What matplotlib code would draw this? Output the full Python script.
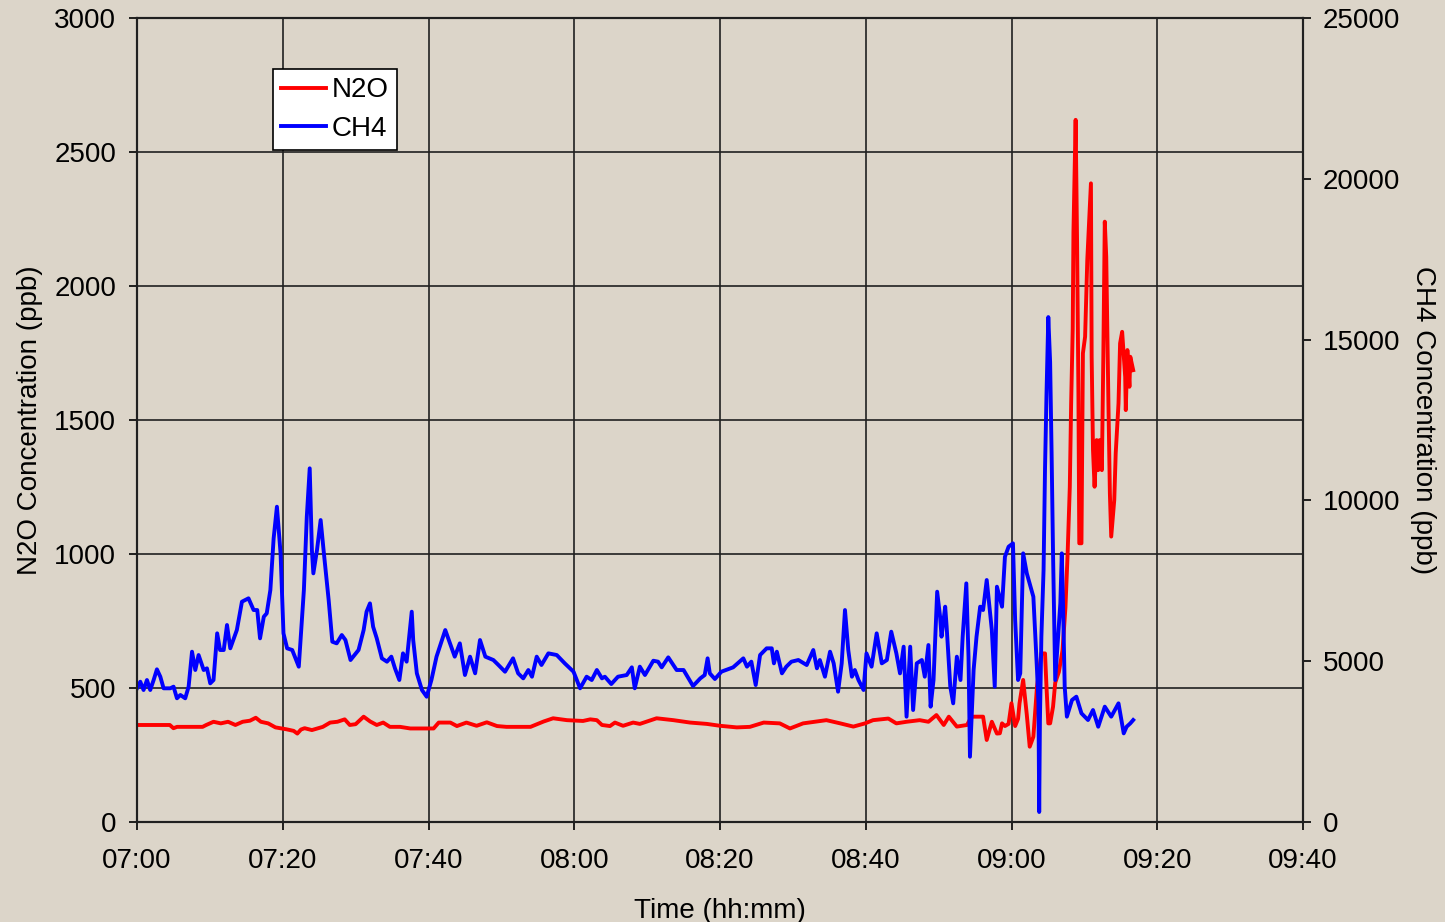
import numpy as np
import matplotlib
matplotlib.use("Agg")
import matplotlib.pyplot as plt
import matplotlib.dates as mdates

# minutes after 07:00 and concentrations (ppb)
ch4_minutes = [0, 0.46, 0.9, 1.37, 1.83, 2.29, 2.74, 3.2, 3.66, 4.57, 5.03, 5.49, 5.95, 6.63,
               7.09, 7.55, 8.0, 8.46, 9.15, 9.6, 10.06, 10.5, 11.0, 11.4, 11.9, 12.35, 12.8,
               13.7, 14.4, 15.3, 16.0, 16.5, 16.9, 17.4, 17.8, 18.3, 18.75, 19.2, 19.7, 20.1,
               20.6, 21.3, 22.2, 22.9, 23.3, 23.7, 24.0, 24.2, 24.7, 25.2, 25.6, 26.3, 26.8,
               27.4, 28.1, 28.6, 29.3, 30.4, 31.1, 31.5, 31.97, 32.4, 32.9, 33.6, 34.3, 34.9,
               35.4, 36.0, 36.5, 37.0, 37.7, 37.9, 38.4, 39.1, 39.75, 40.4, 41.1, 42.3, 42.95,
               43.6, 44.3, 45.0, 45.7, 46.4, 47.07, 47.8, 48.9, 49.6, 50.5, 51.6, 52.3, 53.0,
               53.7, 54.2, 54.85, 55.5, 56.45, 57.6, 58.7, 59.9, 60.8, 61.7, 62.4, 63.1, 63.8,
               64.2, 65.1, 66.0, 67.2, 67.9, 68.3, 69.0, 69.7, 70.85, 71.5, 72.0, 72.9, 74.05,
               75.0, 76.3, 77.3, 77.9, 78.3, 78.6, 79.3, 80.2, 81.8, 83.2, 83.7, 84.3, 84.9,
               85.5, 86.4, 87.1, 87.4, 87.8, 88.5, 89.1, 89.8, 90.75, 91.9, 92.8, 93.3, 93.7,
               94.4, 95.1, 95.6, 96.2, 96.7, 97.15, 97.6, 98.1, 98.5, 99.0, 99.7, 100.1, 100.8,
               101.5, 102.2, 102.9, 103.5, 104.2, 104.7, 105.2, 105.6, 106.1, 106.5, 107.0,
               107.7, 108.1, 108.6, 108.9, 109.3, 109.8, 110.2, 110.4, 110.9, 111.1, 111.6,
               112.0, 112.5, 113.0, 113.3, 113.8, 114.1, 114.3, 114.8, 115.2, 115.7, 116.1,
               116.6, 117.3, 117.7, 118.0, 118.7, 119.1, 119.6, 120.2, 120.5, 120.9, 121.2,
               121.6, 122.1, 123.0, 123.5, 123.7, 123.8, 123.9, 124.1, 124.4, 124.6, 124.8,
               125.05, 125.3, 125.5, 125.7, 126.0, 126.4, 126.7, 126.9, 127.1, 127.3, 127.6,
               128.3, 128.9, 129.6, 130.5, 131.2, 131.9, 132.8, 133.7, 134.7, 135.4, 135.8,
               136.3, 136.7]
ch4_ppb = [4157, 4362, 4104, 4415, 4104, 4415, 4747, 4518, 4157, 4157, 4208, 3846, 3950, 3846,
           4208, 5295, 4726, 5192, 4726, 4778, 4312, 4415, 5866, 5348, 5348, 6125, 5400,
           5969, 6850, 6955, 6591, 6591, 5711, 6383, 6487, 7213, 8820, 9803, 8354, 5866,
           5400, 5348, 4829, 7213, 9492, 10997, 8457, 7732, 8457, 9389, 8457, 6902, 5606,
           5555, 5814, 5659, 5037, 5348, 5969, 6539, 6798, 6072, 5711, 5089, 4985, 5141,
           4778, 4415, 5244, 4985, 6539, 5659, 4623, 4104, 3896, 4415, 5141, 5969, 5555,
           5141, 5555, 4570, 5141, 4623, 5659, 5141, 5037, 4881, 4673, 5089, 4623, 4467,
           4726, 4518, 5141, 4881, 5244, 5192, 4933, 4673, 4157, 4518, 4415, 4726, 4467,
           4518, 4290, 4518, 4570, 4809, 4157, 4830, 4570, 5015, 4985, 4809, 5120, 4726,
           4726, 4228, 4467, 4570, 5089, 4623, 4446, 4675, 4809, 5089, 4830, 4985, 4259,
           5192, 5400, 5400, 4933, 5296, 4623, 4830, 4985, 5037, 4881, 5348, 4778, 5037,
           4518, 5296, 4933, 4052, 4933, 6591, 5348, 4518, 4726, 4415, 4104, 5244, 4830,
           5866, 4933, 5037, 5918, 5244, 4622, 5451, 3275, 5451, 3482, 4933,
           5037, 4518, 5503, 3586, 4415, 7161, 6384, 5763, 6695, 6073, 4207,
           3690, 5140, 4415, 5762, 7420, 5140, 2030, 4726, 5762, 6695, 6591,
           7524, 5970, 4207, 7316, 6695, 8248, 8560, 8664, 6280, 4415, 4622,
           8353, 7731, 7005, 4726, 3690, 311, 3171, 5762, 7835, 10986, 13267,
           15700, 14302, 11504, 8353, 4415, 5762, 6798, 8353, 6487, 4207, 3275,
           3793, 3897, 3379, 3171, 3482, 2963, 3586, 3275, 3690, 2756, 2963,
           3067, 3171]

n2o_minutes = [0, 4.5, 5.0, 5.5, 9.0, 9.5, 10.5, 11.5, 12.5, 13.5, 14.5, 15.5, 16.3, 17.0,
               18.0, 19.0, 20.5, 21.5, 22.0, 22.5, 23.0, 24.0, 25.5, 26.5, 27.5, 28.5, 29.2,
               30.0, 31.1, 32.0, 32.9, 33.8, 34.7, 36.1, 37.5, 40.7, 41.4, 43.0, 43.9, 45.2,
               46.6, 48.0, 49.4, 50.7, 54.0, 55.8, 57.1, 59.0, 61.2, 62.2, 63.1, 63.8, 64.9,
               65.6, 66.7, 68.1, 69.0, 71.3, 73.6, 75.9, 78.2, 80.0, 82.3, 84.1, 86.0, 88.2,
               89.6, 91.4, 94.6, 96.5, 98.3, 99.9, 101.0, 103.1, 104.2, 105.6, 107.4, 108.6,
               109.7, 110.7, 111.4, 112.5, 113.9, 114.5, 116.1, 116.6, 117.3, 118.0, 118.4,
               118.7, 119.1, 119.6, 120.0, 120.5, 120.9, 121.1, 121.6, 122.1, 122.5, 123.0,
               123.5, 124.1, 124.6, 124.8, 125.05, 125.3, 125.7, 126.0, 126.5, 127.0, 127.4,
               127.7, 128.0, 128.2, 128.4, 128.5, 128.8, 129.0, 129.2, 129.3, 129.6, 129.8,
               130.1, 130.4, 130.9, 131.0, 131.2, 131.4, 131.7, 131.9, 132.1, 132.4, 132.6,
               132.8, 133.0, 133.3, 133.5, 133.7, 134.1, 134.3, 134.7, 134.9, 135.2, 135.6,
               135.7, 135.9, 136.2, 136.3, 136.7]
n2o_ppb = [362, 362, 350, 355, 355, 362, 374, 368, 374, 362, 374, 378, 389, 374,
           368, 353, 346, 340, 330, 345, 350, 343, 355, 371, 374, 383, 362,
           365, 393, 375, 362, 371, 355, 355, 349, 349, 371, 371, 358, 371,
           359, 372, 358, 355, 355, 375, 387, 380, 377, 383, 380, 362, 358,
           371, 359, 371, 366, 387, 380, 371, 366, 359, 353, 355, 371, 368,
           349, 368, 380, 368, 356, 368, 380, 386, 368, 374, 380, 374,
           399, 362, 393, 356, 362, 393, 393, 306, 374, 330, 331,
           368, 358, 366, 443, 358, 385, 443, 530, 400, 281, 318,
           505, 629, 629, 505, 368, 368, 430, 520, 560, 640, 800,
           1000, 1250, 1560, 1840, 2200, 2620, 2160, 1600, 1040, 1040, 1749,
           1811, 2097, 2383, 1736, 1388, 1251, 1425, 1313, 1425, 1313, 1736,
           2240, 2109, 1562, 1226, 1065, 1201, 1376, 1562, 1786, 1829, 1661,
           1537, 1761, 1624, 1736, 1686]

start = np.datetime64("2000-01-01T07:00")


def to_time(minutes):
    return start + (np.array(minutes) * 60).astype("timedelta64[s]")


bg = "#dcd5c9"
plt.rcParams["font.family"] = ["Liberation Sans", "DejaVu Sans"]
plt.rcParams["font.size"] = 20

fig = plt.figure(figsize=(14.45, 9.22), dpi=100, facecolor=bg)
ax1 = fig.add_axes([137 / 1445, 1 - 822 / 922, 1166 / 1445, 804 / 922])
ax1.set_facecolor(bg)
ax2 = ax1.twinx()

l1, = ax1.plot(to_time(n2o_minutes), n2o_ppb, color="#ff0000", lw=2.8, label="N2O")
l2, = ax2.plot(to_time(ch4_minutes), ch4_ppb, color="#0000ff", lw=2.8, label="CH4")

ax1.set_xlim(start, start + np.timedelta64(160, "m"))
ax1.set_ylim(0, 3000)
ax2.set_ylim(0, 25000)
ax1.set_yticks(np.arange(0, 3001, 500))
ax2.set_yticks(np.arange(0, 25001, 5000))
ax1.xaxis.set_major_locator(mdates.MinuteLocator(byminute=[0, 20, 40]))
ax1.xaxis.set_major_formatter(mdates.DateFormatter("%H:%M"))

ax1.grid(True, color="#202020", lw=1.2)
ax1.set_axisbelow(True)
for a in (ax1, ax2):
    for s in a.spines.values():
        s.set_color("#202020")
        s.set_linewidth(1.5)
ax1.tick_params(axis="x", length=6, width=1.2, pad=13)
ax1.tick_params(axis="y", length=6, width=1.2, pad=9)
ax2.tick_params(axis="y", length=6, width=1.2, pad=8)

ax1.set_xlabel("Time (hh:mm)", labelpad=17)
ax1.set_ylabel("N2O Concentration (ppb)", labelpad=8)
ax2.set_ylabel("CH4 Concentration (ppb)", rotation=270, labelpad=26)

leg = ax2.legend(handles=[l1, l2], loc="upper left", bbox_to_anchor=(0.1166, 0.9366),
                 fancybox=False, framealpha=1, edgecolor="black", facecolor="white",
                 handlelength=1.6, handletextpad=0.2, borderpad=0.3, labelspacing=0.45,
                 borderaxespad=0)
leg.get_frame().set_linewidth(1.2)

fig.savefig("out.png", dpi=100, facecolor=bg)
